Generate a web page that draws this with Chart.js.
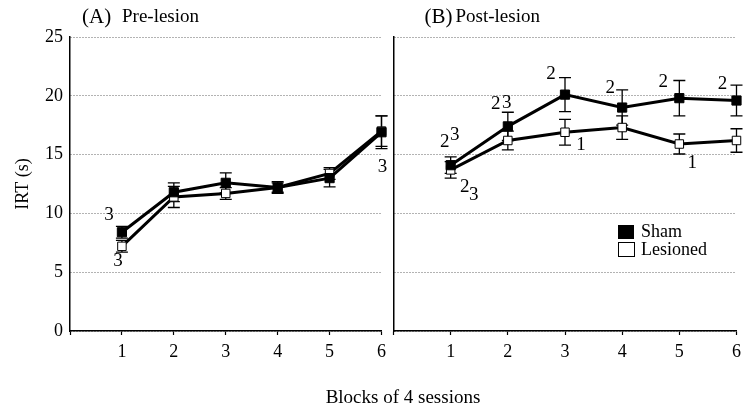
<!DOCTYPE html>
<html>
<head>
<meta charset="utf-8">
<script src="https://cdn.jsdelivr.net/npm/chart.js@4"></script>
<style>
body { margin: 0; background: #fff; }
#wrap { position: relative; width: 747px; height: 410px; font-family: "Liberation Serif", serif; color: #000; }
canvas { position: absolute; top: 0; }
#graficoA { left: 0; }
#graficoB { left: 386px; }
#ejeX { position: absolute; left: 303px; width: 200px; top: 386px; text-align: center; font-size: 19px; line-height: 22px; }
</style>
</head>
<body>
<div id="wrap">
  <canvas id="graficoA" width="392" height="410"></canvas>
  <canvas id="graficoB" width="361" height="410"></canvas>
  <div id="ejeX">Blocks of 4 sessions</div>
</div>
<script>
// datos
const blocks = [1, 2, 3, 4, 5, 6];
const yTicks = [0, 5, 10, 15, 20, 25];

const shamPre = [8.4, 11.8, 12.6, 12.2, 13.0, 16.9];
const shamPreErr = [0.5, 0.8, 0.85, 0.5, 0.75, 1.4];
const lesPre = [7.2, 11.4, 11.7, 12.2, 13.4, 17.0];
const lesPreErr = [0.5, 0.9, 0.5, 0.4, 0.5, 1.3];

const shamPost = [14.1, 17.4, 20.1, 19.0, 19.8, 19.6];
const shamPostErr = [0.7, 1.2, 1.45, 1.5, 1.5, 1.3];
const lesPost = [13.7, 16.2, 16.9, 17.3, 15.9, 16.2];
const lesPostErr = [0.7, 0.8, 1.1, 1.0, 0.85, 1.0];

// marcas de significancia junto a los puntos
const notesShamPre = [{ i: 0, text: '3', dx: -13, dy: -17 }];
const notesLesPre = [{ i: 0, text: '3', dx: -4, dy: 15 }, { i: 5, text: '3', dx: 1, dy: 36 }];
const notesShamPost = [
    { i: 0, text: '2', dx: -6, dy: -23 }, { i: 0, text: '3', dx: 4, dy: -30 },
    { i: 1, text: '2', dx: -12, dy: -22 }, { i: 1, text: '3', dx: -1, dy: -23 },
    { i: 2, text: '2', dx: -14, dy: -21 },
    { i: 3, text: '2', dx: -12, dy: -20 },
    { i: 4, text: '2', dx: -16, dy: -16 },
    { i: 5, text: '2', dx: -14, dy: -16 }
];
const notesLesPost = [
    { i: 0, text: '2', dx: 14, dy: 17 }, { i: 0, text: '3', dx: 23, dy: 25 },
    { i: 2, text: '1', dx: 16, dy: 13 },
    { i: 4, text: '1', dx: 13, dy: 19 }
];

const SERIF = '"Liberation Serif", "DejaVu Serif", serif';
Chart.defaults.font.family = SERIF;
Chart.defaults.font.size = 18;
Chart.defaults.color = '#000';

const puntos = (vals) => blocks.map((b, i) => ({ x: b, y: vals[i] }));

const serie = (label, vals, errs, notes, filled) => ({
    label: label,
    data: puntos(vals),
    errors: errs,
    notes: notes,
    borderColor: '#000',
    borderWidth: 3,
    tension: 0,
    clip: false,
    pointStyle: 'rect',
    pointRadius: filled ? 6.5 : 6,
    pointBackgroundColor: filled ? '#000' : '#fff',
    pointBorderColor: '#000',
    pointBorderWidth: 1
});

// barras de error, marcas y titulo del panel
const extras = {
    id: 'extras',
    beforeDatasetsDraw(chart) {
        const { ctx, scales: { x, y } } = chart;
        ctx.save();
        ctx.strokeStyle = '#000';
        ctx.lineWidth = 1.3;
        chart.data.datasets.forEach(ds => {
            ds.errors.forEach((e, i) => {
                const px = x.getPixelForValue(ds.data[i].x);
                const top = y.getPixelForValue(ds.data[i].y + e);
                const bot = y.getPixelForValue(ds.data[i].y - e);
                ctx.beginPath();
                ctx.moveTo(px, top); ctx.lineTo(px, bot);
                ctx.moveTo(px - 6, top); ctx.lineTo(px + 6, top);
                ctx.moveTo(px - 6, bot); ctx.lineTo(px + 6, bot);
                ctx.stroke();
            });
        });
        ctx.restore();
    },
    afterDatasetsDraw(chart, args, opts) {
        const { ctx, chartArea, scales: { x, y } } = chart;
        ctx.save();
        ctx.fillStyle = '#000';
        ctx.textAlign = 'center';
        ctx.textBaseline = 'middle';
        ctx.font = '19px ' + SERIF;
        chart.data.datasets.forEach(ds => {
            ds.notes.forEach(n => {
                const px = x.getPixelForValue(ds.data[n.i].x);
                const py = y.getPixelForValue(ds.data[n.i].y);
                ctx.fillText(n.text, px + n.dx, py + n.dy);
            });
        });
        ctx.textAlign = 'left';
        ctx.textBaseline = 'alphabetic';
        ctx.font = '21px ' + SERIF;
        ctx.fillText(opts.tag, chartArea.left + opts.tagX, 23);
        ctx.font = '19px ' + SERIF;
        ctx.fillText(opts.title, chartArea.left + opts.titleX, 22);
        ctx.restore();
    }
};

const leyenda = {
    id: 'leyenda',
    afterDraw(chart, args, opts) {
        if (!opts.show) return;
        const ctx = chart.ctx;
        const lx = opts.x, ly = opts.y;
        ctx.save();
        ctx.fillStyle = '#000';
        ctx.fillRect(lx, ly, 16, 14);
        ctx.fillStyle = '#fff';
        ctx.fillRect(lx + 0.5, ly + 17.5, 16, 14);
        ctx.strokeStyle = '#000';
        ctx.lineWidth = 1;
        ctx.strokeRect(lx + 0.5, ly + 17.5, 16, 14);
        ctx.fillStyle = '#000';
        ctx.font = '18px ' + SERIF;
        ctx.textAlign = 'left';
        ctx.textBaseline = 'middle';
        ctx.fillText(chart.data.datasets[0].label, lx + 23, ly + 7);
        ctx.fillText(chart.data.datasets[1].label, lx + 23, ly + 25);
        ctx.restore();
    }
};

const fuente = { family: SERIF, size: 18 };

const opciones = (conEjeY, padRight, panel) => ({
    responsive: false,
    animation: false,
    layout: { padding: { top: 37, right: padRight, left: 0, bottom: 0 } },
    plugins: {
        legend: { display: false },
        tooltip: { enabled: false },
        extras: panel,
        leyenda: { show: !conEjeY, x: 618 - 386, y: 225 }
    },
    scales: {
        x: {
            type: 'linear',
            min: 0,
            max: 6,
            afterBuildTicks: (scale) => { scale.ticks = [0].concat(blocks).map(v => ({ value: v })); },
            afterFit: (scale) => { scale.height = 79; },
            ticks: {
                padding: 6,
                font: fuente,
                callback: (v) => v === 0 ? '' : String(v)
            },
            grid: { drawOnChartArea: false, drawTicks: true, tickLength: 4, color: '#000', tickColor: '#000', tickWidth: 1.2 },
            border: { display: true, color: '#000', width: 1.5 }
        },
        y: {
            min: 0,
            max: 25,
            afterBuildTicks: (scale) => { scale.ticks = yTicks.map(v => ({ value: v })); },
            afterFit: (scale) => { scale.width = conEjeY ? 70 : 5; },
            ticks: { display: conEjeY, padding: 7, font: fuente },
            grid: { drawTicks: false, color: '#666', lineWidth: 1 },
            border: { display: true, color: '#000', width: 1.5, dash: [1, 2] },
            title: {
                display: conEjeY,
                text: 'IRT (s)',
                font: fuente,
                padding: { top: 12, bottom: 0 }
            }
        }
    }
});

const graficoA = new Chart(document.querySelector('#graficoA'), {
    type: 'line',
    data: {
        datasets: [
            serie('Sham', shamPre, shamPreErr, notesShamPre, true),
            serie('Lesioned', lesPre, lesPreErr, notesLesPre, false)
        ]
    },
    options: opciones(true, 10, { tag: '(A)', tagX: 12, title: 'Pre-lesion', titleX: 52 }),
    plugins: [extras, leyenda]
});

const graficoB = new Chart(document.querySelector('#graficoB'), {
    type: 'line',
    data: {
        datasets: [
            serie('Sham', shamPost, shamPostErr, notesShamPost, true),
            serie('Lesioned', lesPost, lesPostErr, notesLesPost, false)
        ]
    },
    options: opciones(false, 5, { tag: '(B)', tagX: 31, title: 'Post-lesion', titleX: 62 }),
    plugins: [extras, leyenda]
});
</script>
</body>
</html>
